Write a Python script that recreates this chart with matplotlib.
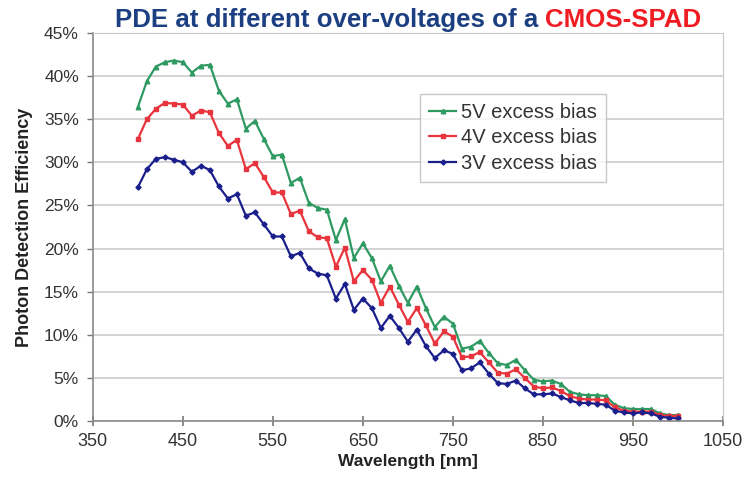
import numpy as np
import matplotlib
matplotlib.use("Agg")
import matplotlib.pyplot as plt
from matplotlib.ticker import PercentFormatter

wavelength = list(range(400, 1001, 10))

pde_5v = [36.4, 39.4, 41.1, 41.6, 41.8, 41.6, 40.4, 41.2, 41.3, 38.3,
          36.8, 37.3, 33.9, 34.8, 32.7, 30.7, 30.9, 27.6, 28.2, 25.3,
          24.7, 24.5, 21.0, 23.4, 18.9, 20.6, 18.9, 16.2, 18.0, 15.7,
          13.7, 15.6, 13.1, 10.9, 12.1, 11.3, 8.4, 8.6, 9.3, 7.9,
          6.7, 6.5, 7.1, 5.9, 4.8, 4.6, 4.7, 4.3, 3.4, 3.1,
          3.0, 3.0, 2.9, 1.9, 1.5, 1.4, 1.4, 1.4, 0.9, 0.7, 0.7]

pde_4v = [32.7, 35.0, 36.2, 36.9, 36.8, 36.7, 35.4, 36.0, 35.8, 33.4,
          31.9, 32.6, 29.2, 29.9, 28.3, 26.5, 26.5, 24.0, 24.4, 22.0,
          21.3, 21.2, 17.9, 20.1, 16.2, 17.5, 16.4, 13.7, 15.6, 13.5,
          11.5, 13.1, 11.1, 9.0, 10.4, 9.8, 7.4, 7.5, 8.0, 6.8,
          5.6, 5.5, 6.0, 5.0, 4.0, 3.8, 3.9, 3.5, 2.9, 2.6,
          2.5, 2.5, 2.4, 1.6, 1.2, 1.1, 1.1, 1.1, 0.7, 0.6, 0.6]

pde_3v = [27.1, 29.2, 30.4, 30.6, 30.3, 30.0, 28.9, 29.6, 29.1, 27.2,
          25.8, 26.3, 23.8, 24.2, 22.8, 21.4, 21.4, 19.1, 19.5, 17.7,
          17.1, 16.9, 14.2, 15.9, 12.9, 14.2, 13.1, 10.8, 12.2, 10.8,
          9.2, 10.6, 8.7, 7.3, 8.2, 7.8, 5.9, 6.1, 6.8, 5.5,
          4.4, 4.3, 4.7, 3.8, 3.1, 3.1, 3.2, 2.8, 2.4, 2.1,
          2.1, 2.0, 1.9, 1.2, 1.0, 0.9, 1.0, 0.9, 0.5, 0.4, 0.3]

series_labels = ["5V excess bias", "4V excess bias", "3V excess bias"]
x_ticks = list(range(350, 1051, 100))
y_ticks = list(range(0, 46, 5))

plt.rcParams["font.family"] = ["Liberation Sans", "DejaVu Sans"]

fig = plt.figure(figsize=(7.49, 4.84), dpi=100)
ax = fig.add_axes([0.124, 0.130, 0.841, 0.802])

ax.plot(wavelength, pde_5v, color="#2e9a62", lw=1.6, marker="^", ms=3.3,
        label=series_labels[0])
ax.plot(wavelength, pde_4v, color="#e8343c", lw=1.6, marker="s", ms=3.0,
        label=series_labels[1])
ax.plot(wavelength, pde_3v, color="#1b1f8c", lw=1.6, marker="D", ms=2.6,
        label=series_labels[2])

ax.set_xlim(350, 1050)
ax.set_ylim(0, 45)
ax.set_xticks(x_ticks)
ax.set_yticks(y_ticks)
ax.yaxis.set_major_formatter(PercentFormatter(decimals=0))
ax.grid(axis="y", color="#cccccc", lw=1.2)
ax.set_axisbelow(True)

for side in ["top", "right"]:
    ax.spines[side].set_color("#c8c8c8")
for side in ["left", "bottom"]:
    ax.spines[side].set_color("#8a8a8a")
    ax.spines[side].set_linewidth(1.2)

ax.tick_params(axis="x", direction="inout", length=7, width=1.2, color="#777777",
               labelsize=13, labelcolor="#333333", pad=5)
ax.tick_params(axis="y", direction="out", length=4, width=1.0, color="#777777",
               labelsize=12.5, labelcolor="#333333", pad=6)

ax.set_xlabel("Wavelength [nm]", fontsize=12.5, fontweight="bold", color="#222222",
              labelpad=3)
ax.set_ylabel("Photon Detection Efficiency", fontsize=13, fontweight="bold",
              color="#222222", labelpad=8)

leg = ax.legend(loc="upper left", bbox_to_anchor=(0.52, 0.843), fontsize=14.5,
                frameon=True, fancybox=False, edgecolor="#bbbbbb",
                handlelength=1.3, borderpad=0.45, labelspacing=0.32,
                handletextpad=0.25, borderaxespad=0)
leg.get_frame().set_linewidth(1.0)
for t in leg.get_texts():
    t.set_color("#333333")

title_font = ["Liberation Sans Narrow", "Liberation Sans"]
t1 = fig.text(0.1535, 0.944, "PDE at different over-voltages of a ",
              fontsize=18.6, color="#1c3f82", fontweight="semibold",
              va="baseline", family=title_font)
fig.canvas.draw()
ax.annotate("CMOS-SPAD", xy=(1, 0), xycoords=t1, va="bottom", ha="left",
            fontsize=18.6, color="#f01c24", fontweight="semibold",
            family=title_font)

fig.savefig("out.png", dpi=100)
